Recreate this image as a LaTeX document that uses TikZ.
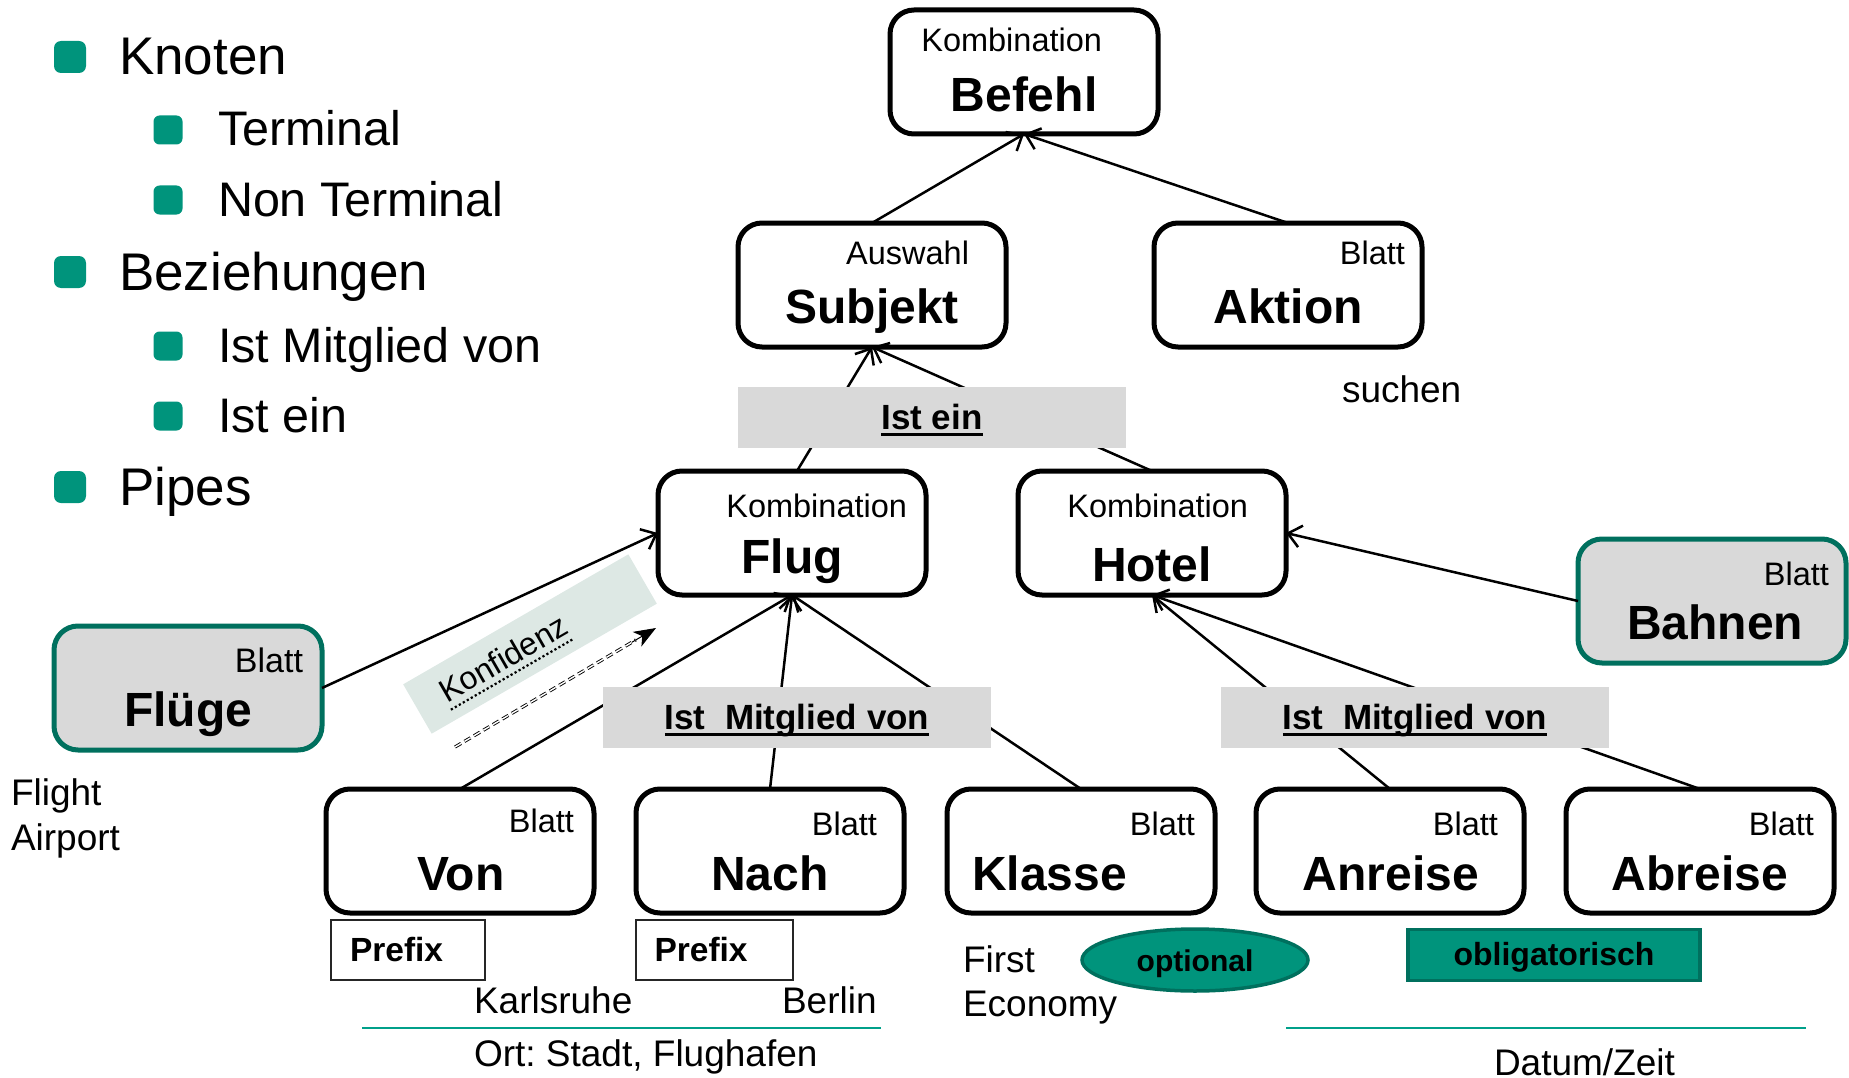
\documentclass[tikz,border=0pt]{standalone}
\usepackage{fontspec}
\setmainfont{Liberation Sans}
\usetikzlibrary{arrows.meta,calc,shapes.geometric}

\definecolor{tealfill}{RGB}{0,148,124}
\definecolor{tealdark}{RGB}{0,112,94}
\definecolor{teallight}{RGB}{0,160,138}
\definecolor{relgray}{RGB}{217,217,217}
\definecolor{konfband}{RGB}{221,232,228}

\newcommand{\setfs}[1]{\fontsize{#1}{#1}\selectfont}
% solid underline for the relation labels
\newcommand{\relul}[1]{\setbox0=\hbox{#1}\rlap{\rule[-6.5pt]{\wd0}{3pt}}\box0}

\tikzset{
  every node/.style={inner sep=0pt, outer sep=0pt},
  box/.style={draw, line width=5pt, rounded corners=24pt, minimum width=268pt, minimum height=124pt, fill=white},
  leafbox/.style={box, draw=tealdark, fill=relgray},
  rel/.style={fill=relgray, minimum width=388pt, minimum height=61pt, text height=25pt, text depth=0pt, font=\setfs{35}\bfseries},
  typelbl/.style={anchor=base east, font=\setfs{32.5}},
  namelbl/.style={anchor=base, font=\setfs{48}\bfseries},
  note/.style={anchor=base west, font=\setfs{37}},
  conn/.style={line width=2.5pt, -{Straight Barb[length=13pt,width=22pt]}},
  bulA/.style={fill=tealfill, rounded corners=7pt, minimum size=32pt},
  bulB/.style={fill=tealfill, rounded corners=6pt, minimum size=29pt},
  itemA/.style={anchor=base west, font=\setfs{53}},
  itemB/.style={anchor=base west, font=\setfs{48.5}},
  prefixbox/.style={draw=black!85, line width=2pt, minimum height=60pt},
  prefixtxt/.style={anchor=base west, font=\setfs{33.5}\bfseries},
  dotline/.style={line width=2.2pt, dash pattern=on 2.2pt off 2.4pt},
}

\begin{document}
\frenchspacing
\begin{tikzpicture}[x=1pt, y=-1pt]
\useasboundingbox (0,0) rectangle (1849,1078);

% ---- bullet list ----
\node[bulA] (bk) at (70,57) {};
\node[itemA] (tk) at (119,75) {Knoten};
\node[bulB] (bt) at (168,130) {};
\node[itemB] (tt) at (218,146) {Terminal};
\node[bulB] (bn) at (168,200) {};
\node[itemB] (tn) at (218,216) {Non Terminal};
\node[bulA] (bb) at (70,272) {};
\node[itemA] (tb) at (119,290) {Beziehungen};
\node[bulB] (bm) at (168,346) {};
\node[itemB] (tm) at (218,362) {Ist Mitglied von};
\node[bulB] (be) at (168,416) {};
\node[itemB] (te) at (218,432) {Ist ein};
\node[bulA] (bp) at (70,487) {};
\node[itemA] (tp) at (119,505) {Pipes};

% ---- confidence band ----
\node[fill=konfband, minimum width=260pt, minimum height=57pt, rotate=30] (konfband) at (530,644) {};
\node[anchor=base, rotate=30, font=\setfs{32}] (konf) at (509,668) {Konfidenz};
\draw[dotline] ($(konf.base west)+(3.5,6.1)$) -- ($(konf.base east)+(3.5,6.1)$);

% ---- tree nodes ----
\node[box] (befehl) at (1024,72) {};
\node[box] (subjekt) at (872,285) {};
\node[box] (aktion) at (1288,285) {};
\node[box] (flug) at (792,533) {};
\node[box] (hotel) at (1152,533) {};
\node[leafbox] (fluege) at (188,688) {};
\node[leafbox] (bahnen) at (1712,601) {};
\node[box] (von) at (460,851) {};
\node[box] (nach) at (770,851) {};
\node[box] (klasse) at (1081,851) {};
\node[box] (anreise) at (1390,851) {};
\node[box] (abreise) at (1700,851) {};

% type labels
\node[typelbl] (befehlT) at ($(befehl.north east)+(-56,42)$) {Kombination};
\node[typelbl] (subjektT) at ($(subjekt.north east)+(-37,41)$) {Auswahl};
\node[typelbl] (aktionT) at ($(aktion.north east)+(-17,41)$) {Blatt};
\node[typelbl] (flugT) at ($(flug.north east)+(-19,46)$) {Kombination};
\node[typelbl] (hotelT) at ($(hotel.north east)+(-38,46)$) {Kombination};
\node[typelbl, font=\setfs{34}] (fluegeT) at ($(fluege.north east)+(-19,46)$) {Blatt};
\node[typelbl] (bahnenT) at ($(bahnen.north east)+(-17,46)$) {Blatt};
\node[typelbl] (vonT) at ($(von.north east)+(-20,43)$) {Blatt};
\node[typelbl] (nachT) at ($(nach.north east)+(-27,46)$) {Blatt};
\node[typelbl] (klasseT) at ($(klasse.north east)+(-20,46)$) {Blatt};
\node[typelbl] (anreiseT) at ($(anreise.north east)+(-26,46)$) {Blatt};
\node[typelbl] (abreiseT) at ($(abreise.north east)+(-20,46)$) {Blatt};

% names
\node[namelbl] (befehlN) at ($(befehl.north)+(0,102)$) {Befehl};
\node[namelbl] (subjektN) at ($(subjekt.north)+(0,100)$) {Subjekt};
\node[namelbl] (aktionN) at ($(aktion.north)+(0,100)$) {Aktion};
\node[namelbl] (flugN) at ($(flug.north)+(0,102)$) {Flug};
\node[namelbl] (hotelN) at ($(hotel.north)+(0,110)$) {Hotel};
\node[namelbl] (fluegeN) at ($(fluege.north)+(0,100)$) {Flüge};
\node[namelbl] (bahnenN) at ($(bahnen.north)+(3,100)$) {Bahnen};
\node[namelbl] (vonN) at ($(von.north)+(1,101)$) {Von};
\node[namelbl] (nachN) at ($(nach.north)+(0,101)$) {Nach};
\node[namelbl, anchor=base west] (klasseN) at ($(klasse.north west)+(25,101)$) {Klasse};
\node[namelbl] (anreiseN) at ($(anreise.north)+(1,101)$) {Anreise};
\node[namelbl] (abreiseN) at ($(abreise.north)+(0,101)$) {Abreise};

% ---- connectors ----
\draw[conn] (subjekt.north) -- (befehl.south);
\draw[conn] (aktion.north) -- (befehl.south);
\draw[conn] ([xshift=5pt]flug.north) -- (subjekt.south);
\draw[conn] (hotel.north) -- (subjekt.south);
\draw[conn] (fluege.east) -- (flug.west);
\draw[conn] (von.north) -- (flug.south);
\draw[conn] (nach.north) -- (flug.south);
\draw[conn] (klasse.north) -- (flug.south);
\draw[conn] (anreise.north) -- (hotel.south);
\draw[conn] (abreise.north) -- (hotel.south);
\draw[conn] (bahnen.west) -- (hotel.east);

% ---- relation labels over the connectors ----
\node[rel] (isa) at (932,417) {\relul{Ist ein}};
\node[rel] (memL) at (797,717) {\relul{Ist\ \ Mitglied von}};
\node[rel] (memR) at (1415,717) {\relul{Ist\ \ Mitglied von}};

% ---- confidence pipe arrow ----
\coordinate (kA) at (455,747);
\coordinate (kB) at (656,628);
\draw[line width=0.9pt, double distance=1.4pt, dash pattern=on 7pt off 4pt] (kA) -- ($(kA)!0.9!(kB)$);
\draw[line width=1pt, -{Stealth[length=22pt,width=17pt,inset=6pt]}] ($(kA)!0.88!(kB)$) -- (kB);

% ---- prefixes ----
\node[prefixbox, minimum width=154pt] (pre1) at (408,950) {};
\node[prefixtxt] (pre1t) at ($(pre1.west)+(19,11)$) {Prefix};
\node[prefixbox, minimum width=157pt] (pre2) at (714,950) {};
\node[prefixtxt] (pre2t) at ($(pre2.west)+(19,11)$) {Prefix};

% ---- notes ----
\node[note] (suchen) at (1342,402) {suchen};
\node[note] (flight) at (11,805) {Flight};
\node[note] (airport) at (11,850) {Airport};
\node[note] (karls) at (474,1013) {Karlsruhe};
\node[note] (berlin) at (782,1013) {Berlin};
\node[note] (ort) at (474,1066) {Ort: Stadt, Flughafen};
\node[note] (first) at (963,972) {First};
\node[note] (economy) at (963,1016) {Economy};
\node[note] (datum) at (1494,1075) {Datum/Zeit};

\coordinate (lineAa) at (362,1028);
\coordinate (lineAb) at (881,1028);
\coordinate (lineBa) at (1286,1028);
\coordinate (lineBb) at (1806,1028);
\draw[teallight, line width=2.5pt] (lineAa) -- (lineAb);
\draw[teallight, line width=2.5pt] (lineBa) -- (lineBb);

% ---- optional / mandatory markers ----
\node[ellipse, draw=tealdark, fill=tealfill, line width=3.5pt, minimum width=226pt, minimum height=62pt] (opt) at (1195,960) {};
\node[font=\setfs{30}\bfseries, anchor=base] (optT) at (1195,971) {optional};
\node[draw=tealdark, fill=tealfill, line width=3.5pt, minimum width=292pt, minimum height=51pt] (obl) at (1554,955) {};
\node[font=\setfs{32}\bfseries, anchor=base] (oblT) at (1554,965) {obligatorisch};

\end{tikzpicture}
\end{document}
